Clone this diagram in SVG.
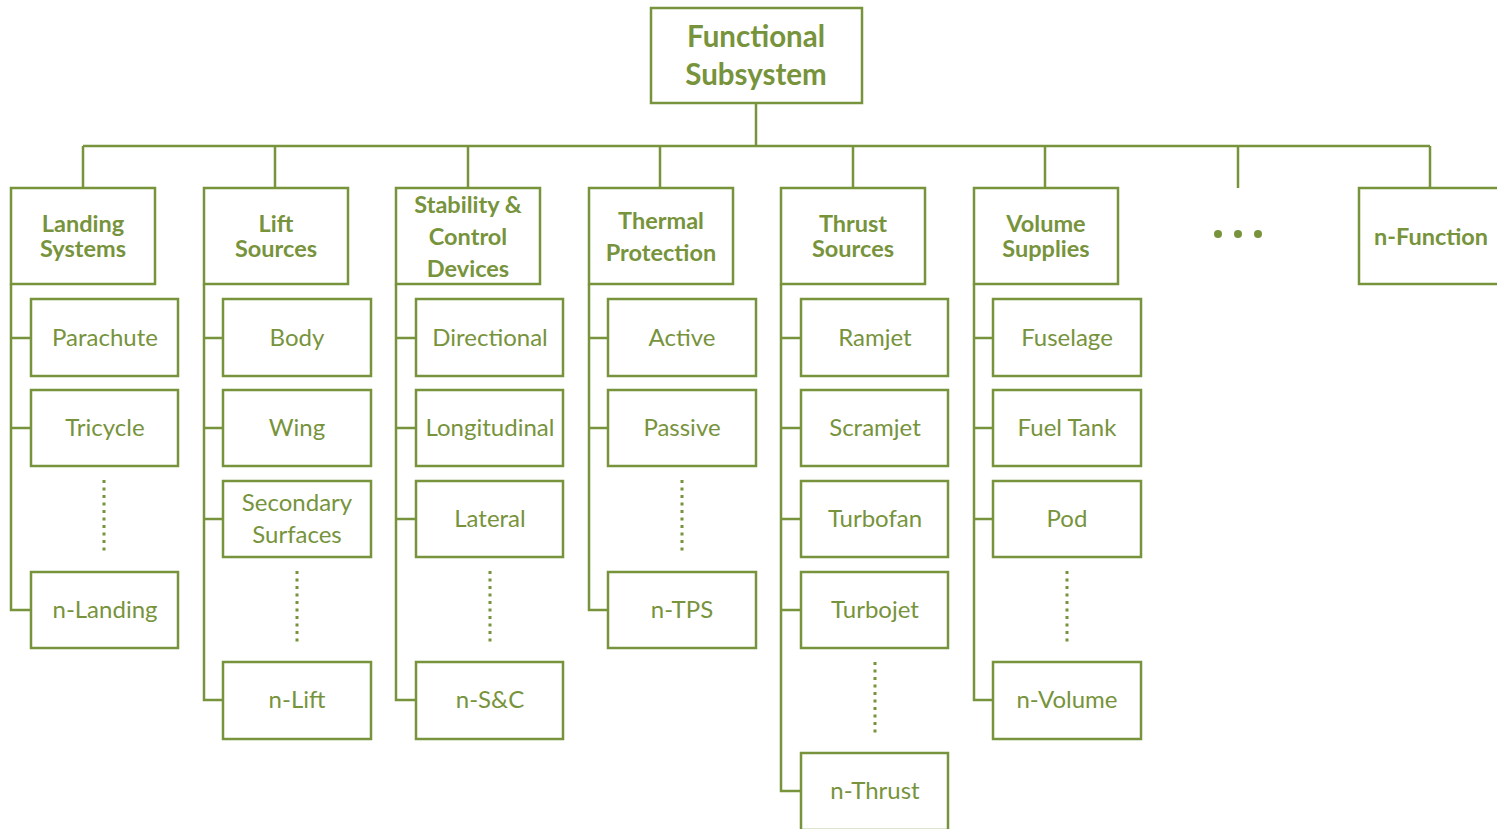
<svg xmlns="http://www.w3.org/2000/svg" width="1497" height="829" viewBox="0 0 1497 829">
<style>
.box{fill:#fff;stroke:#77933C;stroke-width:2.5}
.ln{fill:none;stroke:#77933C;stroke-width:2.5}
.dot{fill:none;stroke:#77933C;stroke-width:3;stroke-dasharray:3 4.5}
text{font-family:Lato,"Open Sans",sans-serif;fill:#77933C;text-anchor:middle;dominant-baseline:central}
.h{font-weight:bold;font-size:23.5px}
.t{font-weight:bold;font-size:29.5px}
.c{font-size:24px}
</style>
<rect width="1497" height="829" fill="#fff"/>
<g id="connectors">
<path class="ln" d="M756,103V146M83,146H1430M83,146V188M275,146V188M468,146V188M660,146V188M853,146V188M1045,146V188M1238,146V188M1430,146V188"/>
<path class="ln" d="M11,284V610H31M11,338H31M11,428H31"/>
<path class="ln" d="M204,284V700H223M204,338H223M204,428H223M204,519H223"/>
<path class="ln" d="M396,284V700H416M396,338H416M396,428H416M396,519H416"/>
<path class="ln" d="M589,284V610H608M589,338H608M589,428H608"/>
<path class="ln" d="M781,284V791H801M781,338H801M781,428H801M781,519H801M781,610H801"/>
<path class="ln" d="M974,284V700H993M974,338H993M974,428H993M974,519H993"/>
<path class="dot" d="M104,480V555M297,571V646M490,571V646M682,480V555M875,662V737M1067,571V646"/>
</g>
<g id="root"><rect class="box" x="651" y="8" width="211" height="95"/><text class="t" x="756" y="35.5">Functional</text><text class="t" x="756" y="73.5">Subsystem</text></g>
<g id="landing"><rect class="box" x="11" y="188" width="144" height="96"/><text class="h" x="83" y="223">Landing</text><text class="h" x="83" y="248">Systems</text></g>
<g id="lift"><rect class="box" x="204" y="188" width="144" height="96"/><text class="h" x="276" y="223">Lift</text><text class="h" x="276" y="248">Sources</text></g>
<g id="stability"><rect class="box" x="396" y="188" width="144" height="96"/><text class="h" x="468" y="203.5">Stability &amp;</text><text class="h" x="468" y="235.5">Control</text><text class="h" x="468" y="267.5">Devices</text></g>
<g id="thermal"><rect class="box" x="589" y="188" width="144" height="96"/><text class="h" x="661" y="219.5">Thermal</text><text class="h" x="661" y="251.5">Protection</text></g>
<g id="thrust"><rect class="box" x="781" y="188" width="144" height="96"/><text class="h" x="853" y="223">Thrust</text><text class="h" x="853" y="248">Sources</text></g>
<g id="volume"><rect class="box" x="974" y="188" width="144" height="96"/><text class="h" x="1046" y="223">Volume</text><text class="h" x="1046" y="248">Supplies</text></g>
<g id="ellipsis"><circle cx="1218" cy="234" r="4" fill="#77933C"/><circle cx="1238" cy="234" r="4" fill="#77933C"/><circle cx="1258" cy="234" r="4" fill="#77933C"/></g>
<g id="nfunction"><rect class="box" x="1359" y="188" width="146" height="96"/><text class="h" x="1431" y="235.5">n-Function</text></g>
<g id="parachute"><rect class="box" x="31" y="299" width="147" height="77"/><text class="c" x="105" y="336.5">Parachute</text></g>
<g id="tricycle"><rect class="box" x="31" y="390" width="147" height="76"/><text class="c" x="105" y="426.5">Tricycle</text></g>
<g id="nlanding"><rect class="box" x="31" y="572" width="147" height="76"/><text class="c" x="105" y="608.5">n-Landing</text></g>
<g id="body"><rect class="box" x="223" y="299" width="148" height="77"/><text class="c" x="297" y="336.5">Body</text></g>
<g id="wing"><rect class="box" x="223" y="390" width="148" height="76"/><text class="c" x="297" y="426.5">Wing</text></g>
<g id="secondary"><rect class="box" x="223" y="481" width="148" height="76"/><text class="c" x="297" y="501.5">Secondary</text><text class="c" x="297" y="533.5">Surfaces</text></g>
<g id="nlift"><rect class="box" x="223" y="662" width="148" height="77"/><text class="c" x="297" y="698.5">n-Lift</text></g>
<g id="directional"><rect class="box" x="416" y="299" width="147" height="77"/><text class="c" x="490" y="336.5">Directional</text></g>
<g id="longitudinal"><rect class="box" x="416" y="390" width="147" height="76"/><text class="c" x="490" y="426.5">Longitudinal</text></g>
<g id="lateral"><rect class="box" x="416" y="481" width="147" height="76"/><text class="c" x="490" y="517.5">Lateral</text></g>
<g id="nsc"><rect class="box" x="416" y="662" width="147" height="77"/><text class="c" x="490" y="698.5">n-S&amp;C</text></g>
<g id="active"><rect class="box" x="608" y="299" width="148" height="77"/><text class="c" x="682" y="336.5">Active</text></g>
<g id="passive"><rect class="box" x="608" y="390" width="148" height="76"/><text class="c" x="682" y="426.5">Passive</text></g>
<g id="ntps"><rect class="box" x="608" y="572" width="148" height="76"/><text class="c" x="682" y="608.5">n-TPS</text></g>
<g id="ramjet"><rect class="box" x="801" y="299" width="147" height="77"/><text class="c" x="875" y="336.5">Ramjet</text></g>
<g id="scramjet"><rect class="box" x="801" y="390" width="147" height="76"/><text class="c" x="875" y="426.5">Scramjet</text></g>
<g id="turbofan"><rect class="box" x="801" y="481" width="147" height="76"/><text class="c" x="875" y="517.5">Turbofan</text></g>
<g id="turbojet"><rect class="box" x="801" y="572" width="147" height="76"/><text class="c" x="875" y="608.5">Turbojet</text></g>
<g id="nthrust"><rect class="box" x="801" y="753" width="147" height="77"/><text class="c" x="875" y="789.5">n-Thrust</text></g>
<g id="fuselage"><rect class="box" x="993" y="299" width="148" height="77"/><text class="c" x="1067" y="336.5">Fuselage</text></g>
<g id="fueltank"><rect class="box" x="993" y="390" width="148" height="76"/><text class="c" x="1067" y="426.5">Fuel Tank</text></g>
<g id="pod"><rect class="box" x="993" y="481" width="148" height="76"/><text class="c" x="1067" y="517.5">Pod</text></g>
<g id="nvolume"><rect class="box" x="993" y="662" width="148" height="77"/><text class="c" x="1067" y="698.5">n-Volume</text></g>
</svg>
